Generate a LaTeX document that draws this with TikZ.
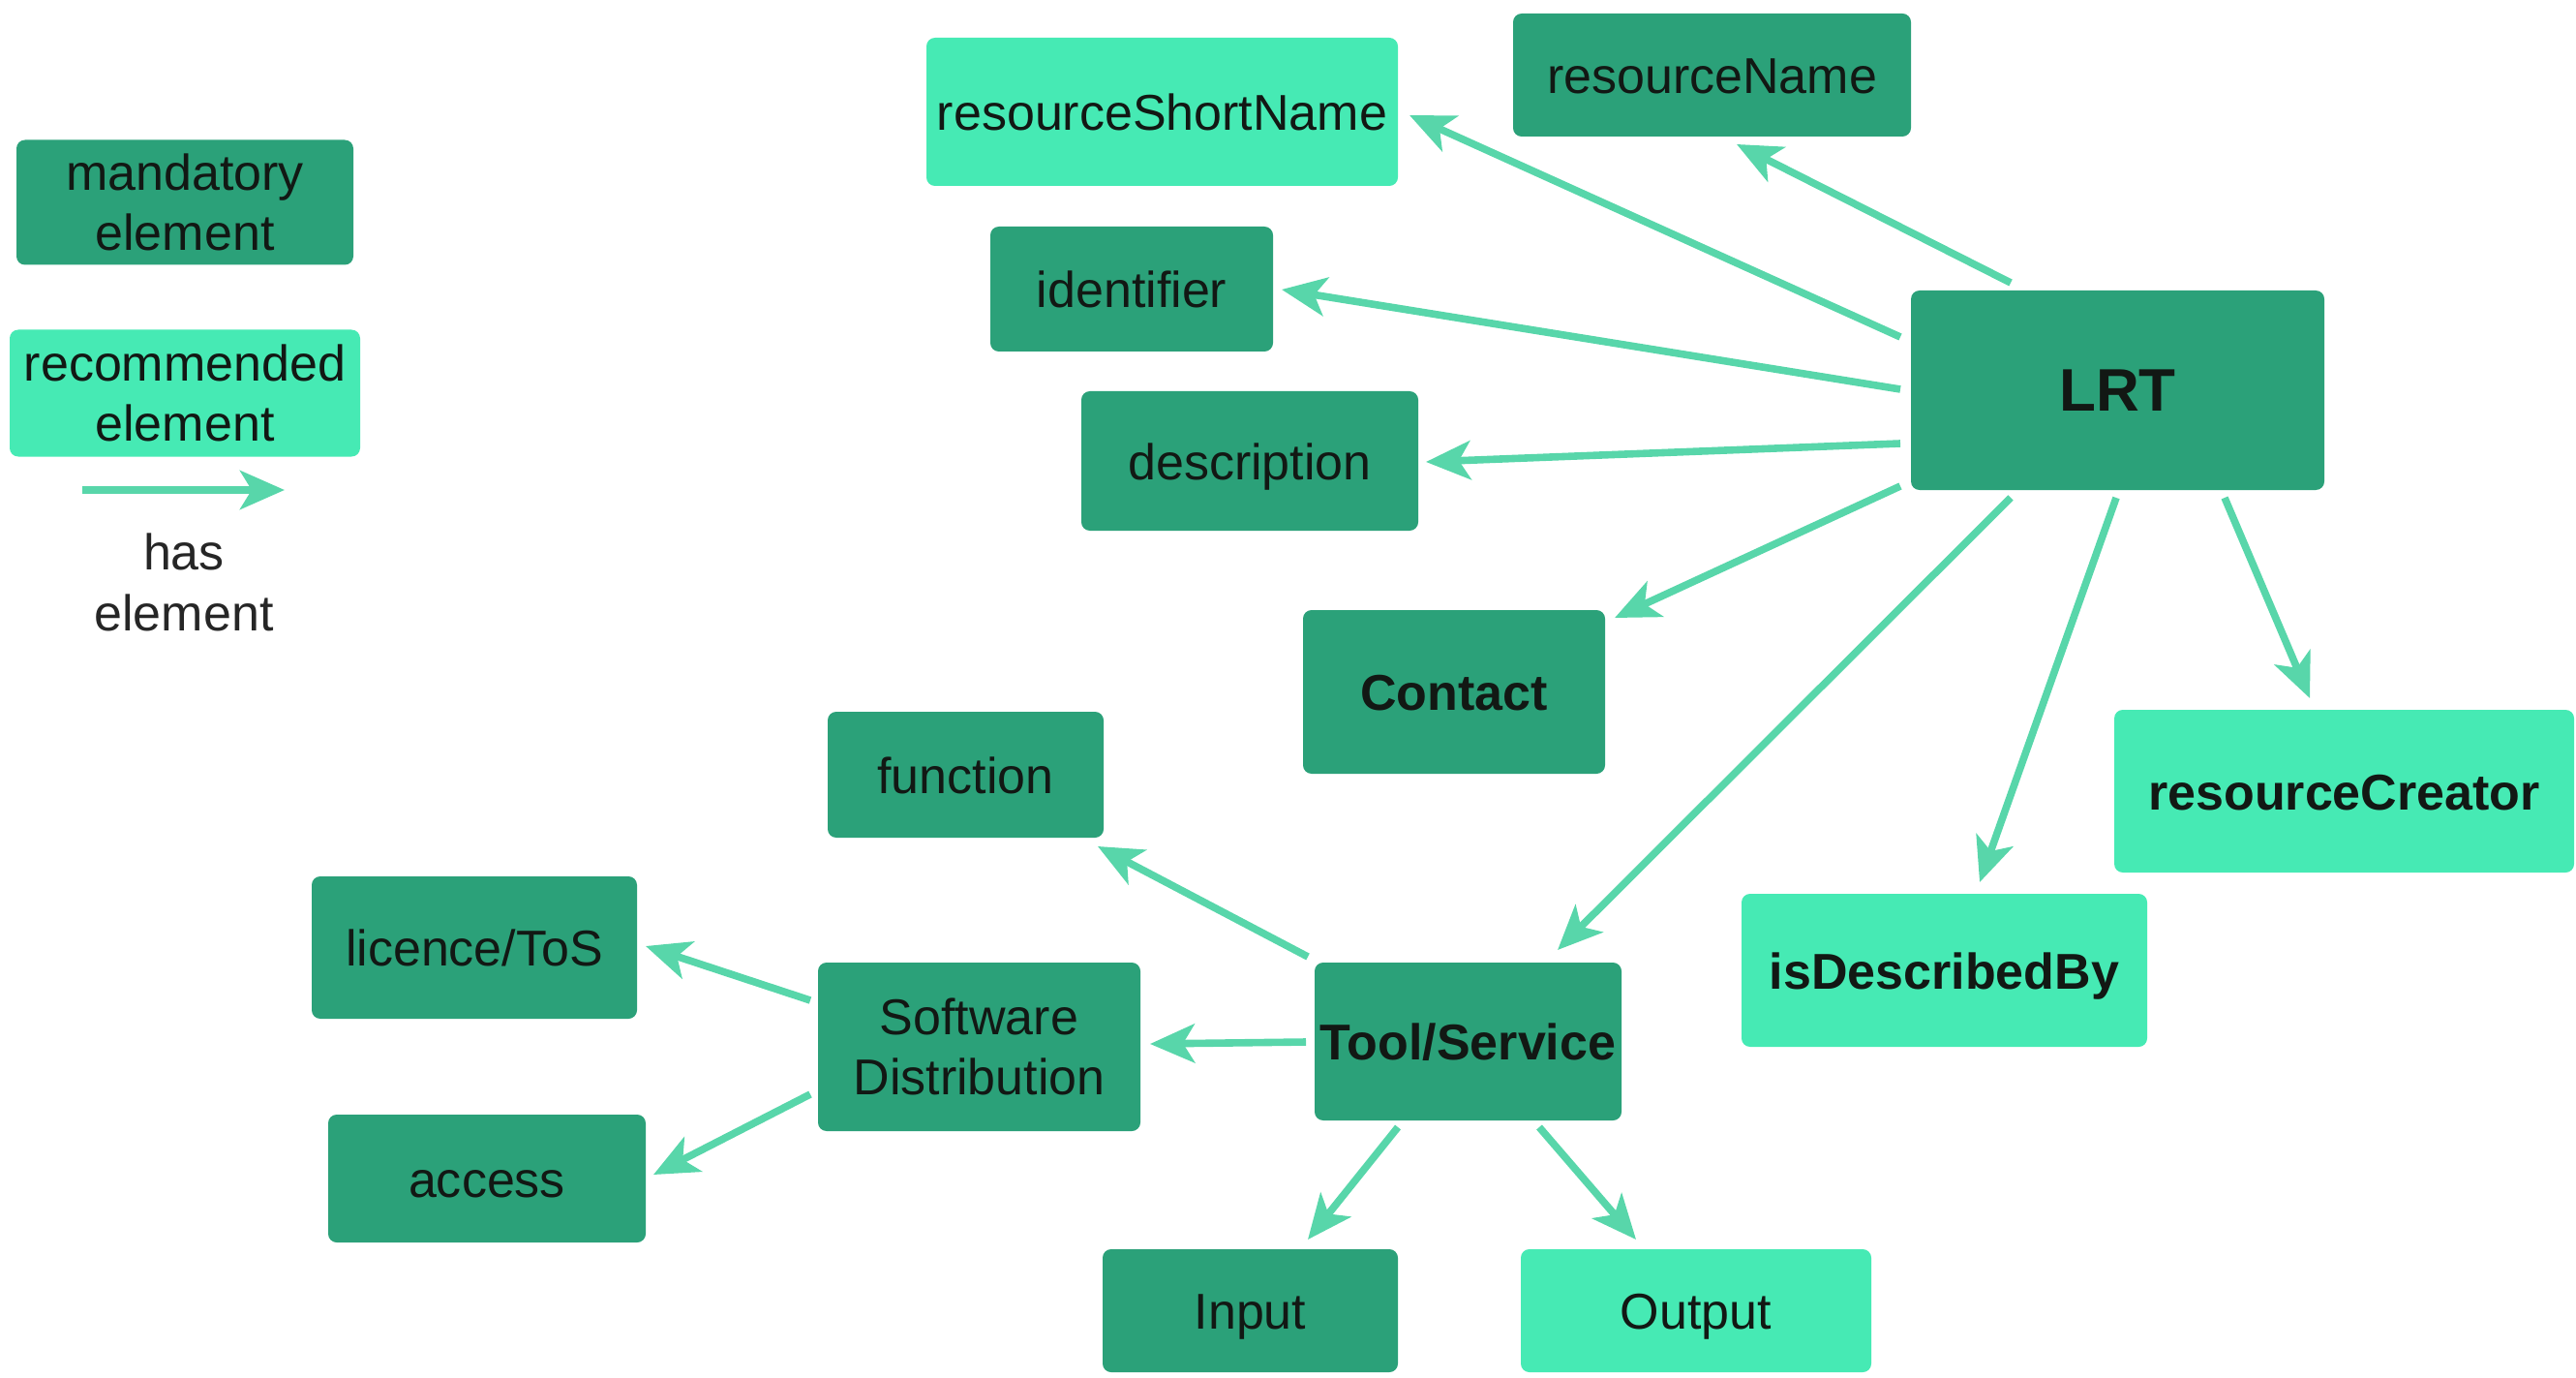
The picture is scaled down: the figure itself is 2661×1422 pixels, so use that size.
\documentclass[tikz,border=0pt]{standalone}
\usepackage{fontspec}
\setmainfont{Liberation Sans}
\usetikzlibrary{arrows.meta}
\definecolor{mandc}{RGB}{43,161,121}
\definecolor{recc}{RGB}{70,234,180}
\definecolor{arrc}{RGB}{88,214,170}
\definecolor{txtc}{RGB}{18,24,20}
\tikzset{
  box/.style={rectangle, rounded corners=2.2pt, inner sep=0pt, align=center,
    text=txtc, font=\fontsize{13}{15.7}\selectfont},
  mand/.style={box, fill=mandc},
  rec/.style={box, fill=recc},
  oneline/.style={text height=9.5pt, text depth=0pt},
  boldtxt/.style={font=\fontsize{13}{15.7}\selectfont\bfseries},
  sz/.style 2 args={minimum width=#1*0.25pt, minimum height=#2*0.25pt},
  arr/.style={draw=arrc, line width=1.9pt,
    -{Stealth[length=11.5pt, width=10pt, inset=3pt]}},
}
\begin{document}
\begin{tikzpicture}[x=0.25pt, y=-0.25pt]
\useasboundingbox (0,0) rectangle (2661,1422);
% legend
\node[mand, sz={348}{129}] (lgm) at (191,209) {mandatory\\element};
\node[rec, sz={362}{131}] (lgr) at (191,406) {recommended\\element};
\coordinate (la) at (85,506);
\coordinate (lb) at (294,506);
\draw[arr] (la) -- (lb);
\node[box, text=black!85, anchor=north] (lgt) at (190,550) {has\\element};
% nodes
\node[rec, oneline, sz={487}{153}] (rsn) at (1200.5,115.5) {resourceShortName};
\node[mand, oneline, sz={411}{127}] (rname) at (1768.5,77.5) {resourceName};
\node[mand, oneline, sz={292}{129}] (ident) at (1169,298.5) {identifier};
\node[mand, oneline, sz={348}{144}] (desc) at (1291,476) {description};
\node[mand, sz={427}{206}, font=\fontsize{15.5}{18}\selectfont\bfseries] (lrt) at (2187.5,403) {LRT};
\node[mand, oneline, boldtxt, sz={312}{169}] (contact) at (1502,714.5) {Contact};
\node[rec, oneline, boldtxt, sz={475}{168}] (rcreator) at (2421.5,817) {resourceCreator};
\node[rec, oneline, boldtxt, sz={419}{158}] (isdesc) at (2008.5,1002) {isDescribedBy};
\node[mand, oneline, sz={285}{130}] (func) at (997.5,800) {function};
\node[mand, oneline, sz={336}{147}] (lic) at (490,978.5) {licence/ToS};
\node[mand, sz={333}{174}] (sd) at (1011.5,1081) {Software\\Distribution};
\node[mand, oneline, sz={328}{132}] (access) at (503,1217) {access};
\node[mand, oneline, boldtxt, sz={317}{163}] (tool) at (1516.5,1075.5) {Tool/Service};
\node[mand, oneline, sz={305}{127}] (input) at (1291.5,1353.5) {Input};
\node[rec, oneline, sz={362}{127}] (output) at (1752,1353.5) {Output};
% connectors
\draw[arr] ([shift={(-110.5,-111)}]lrt.center) -- ([shift={(25.5,71.5)}]rname.center);
\draw[arr] ([shift={(-224.5,-55)}]lrt.center) -- ([shift={(255.5,3.5)}]rsn.center);
\draw[arr] ([shift={(-224.5,-1)}]lrt.center) -- ([shift={(155,0.5)}]ident.center);
\draw[arr] ([shift={(-224.5,55)}]lrt.center) -- ([shift={(182,1)}]desc.center);
\draw[arr] ([shift={(-224.5,99)}]lrt.center) -- ([shift={(166,-76.5)}]contact.center);
\draw[arr] ([shift={(-110.5,111)}]lrt.center) -- ([shift={(92.5,-94.5)}]tool.center);
\draw[arr] ([shift={(-1.5,111)}]lrt.center) -- ([shift={(36.5,-91)}]isdesc.center);
\draw[arr] ([shift={(110.5,111)}]lrt.center) -- ([shift={(-35.5,-96)}]rcreator.center);
\draw[arr] ([shift={(-165.5,-87.5)}]tool.center) -- ([shift={(136.5,74)}]func.center);
\draw[arr] ([shift={(-167.5,0.5)}]tool.center) -- ([shift={(176.5,-3)}]sd.center);
\draw[arr] ([shift={(-174.5,-48)}]sd.center) -- ([shift={(177,-1.5)}]lic.center);
\draw[arr] ([shift={(-174.5,49)}]sd.center) -- ([shift={(172,-4)}]access.center);
\draw[arr] ([shift={(-72.5,88.5)}]tool.center) -- ([shift={(59.5,-73.5)}]input.center);
\draw[arr] ([shift={(73.5,88.5)}]tool.center) -- ([shift={(-62,-73.5)}]output.center);
\end{tikzpicture}
\end{document}
